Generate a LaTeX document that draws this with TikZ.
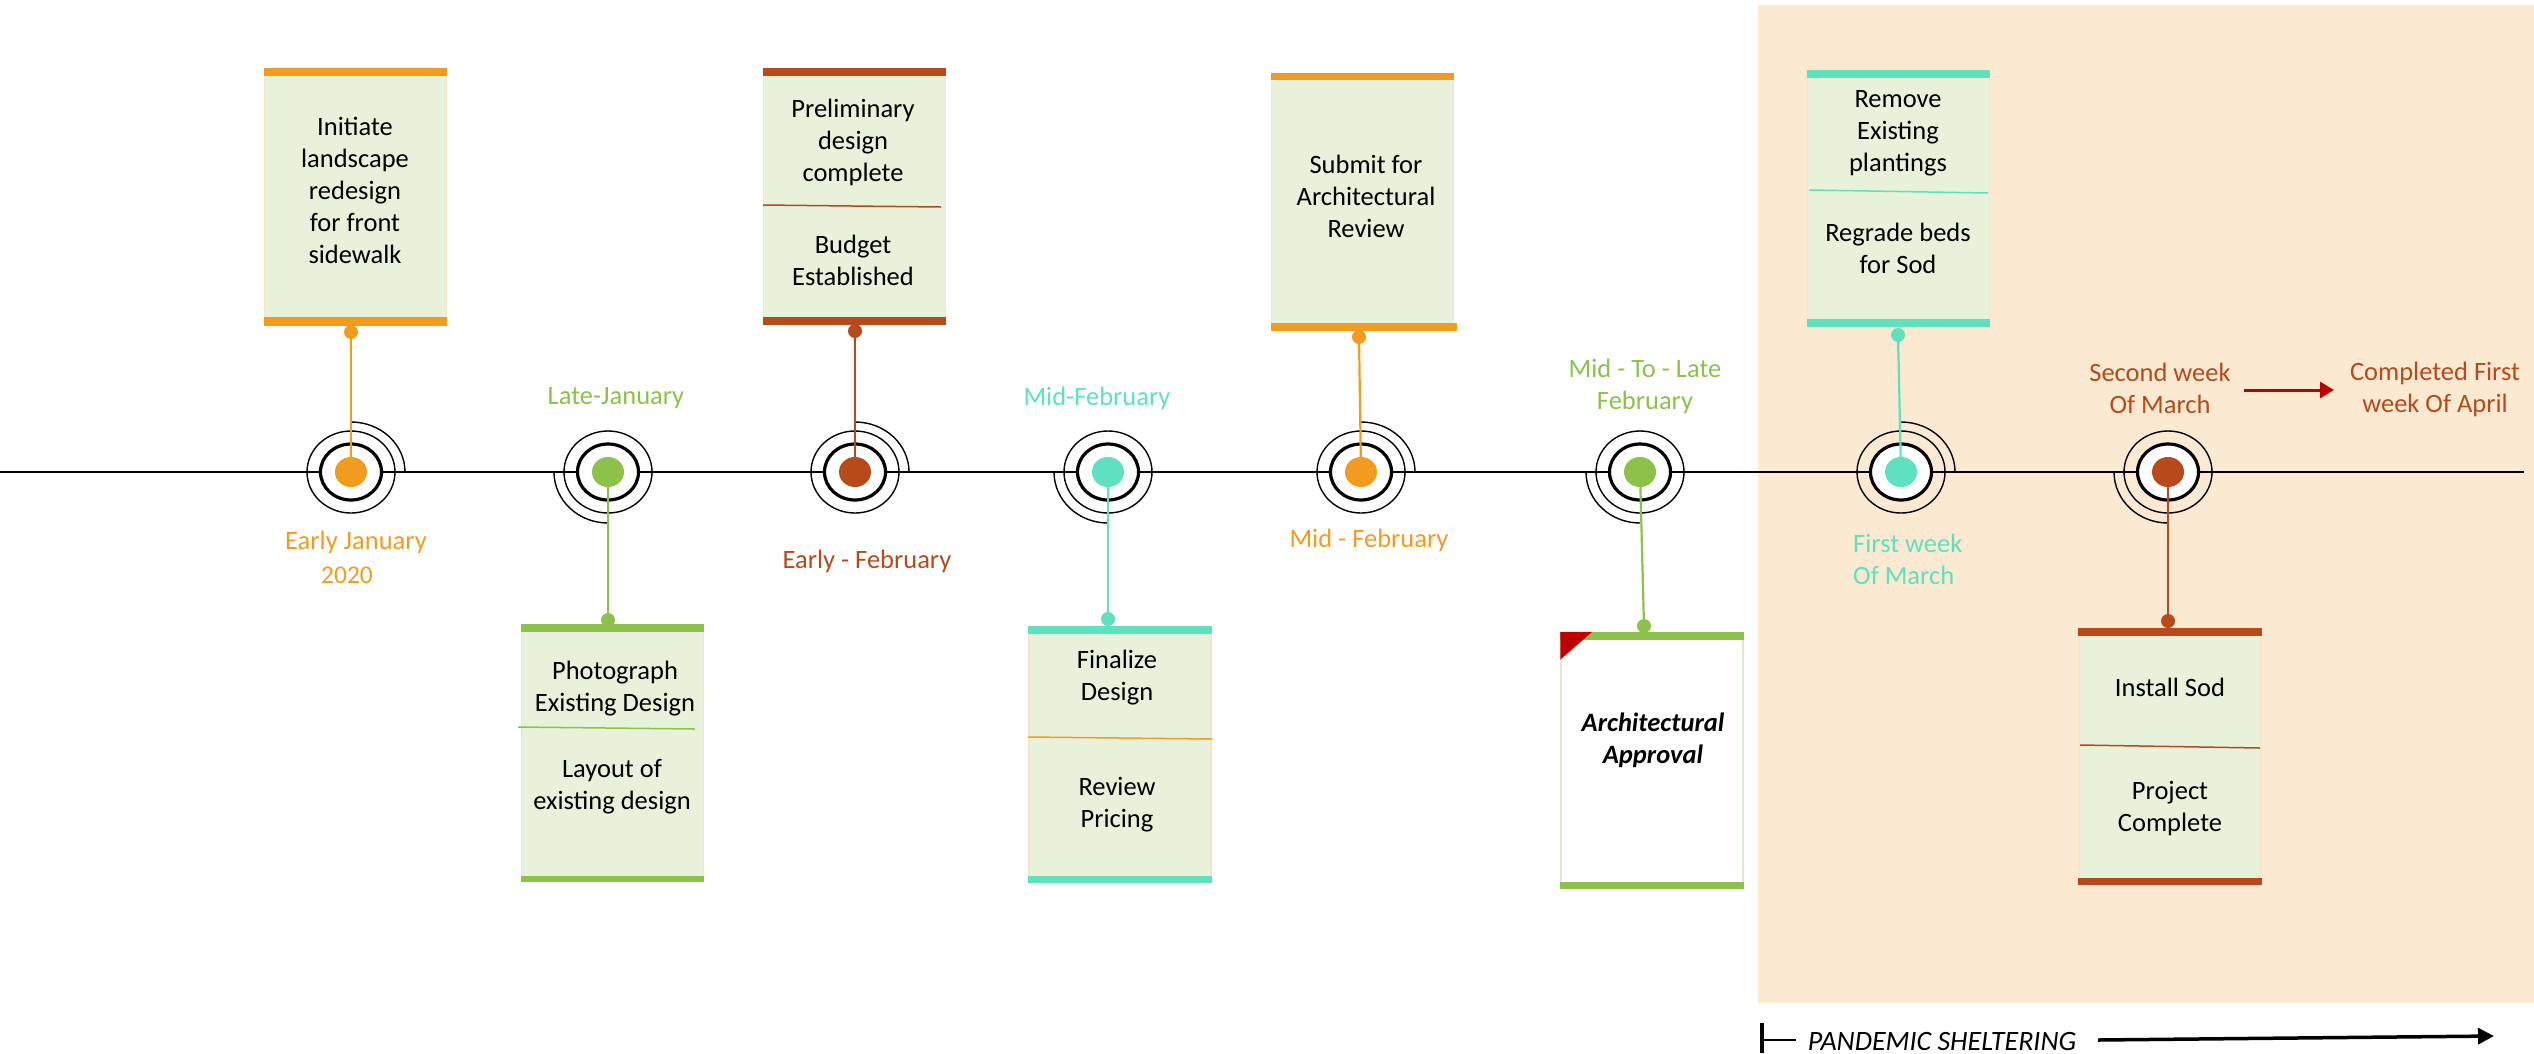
\documentclass[tikz,border=0pt]{standalone}
\usepackage{fontspec}
\setmainfont{Carlito}
\usetikzlibrary{arrows.meta,shapes.geometric}
\definecolor{orng}{HTML}{F29C1F}
\definecolor{rust}{HTML}{B74A1B}
\definecolor{grn}{HTML}{8CC24A}
\definecolor{teal}{HTML}{5DE1BE}
\definecolor{peach}{HTML}{FBE9D2}
\definecolor{boxfill}{HTML}{E8F1D9}
\definecolor{boxedge}{HTML}{FBE3C6}
\definecolor{lgedge}{HTML}{DDEBCB}
\definecolor{redc}{HTML}{C00000}
\begin{document}
\begin{tikzpicture}[x=1pt,y=-1pt,
  box/.style={draw=boxedge, fill=boxfill, line width=1.5pt, minimum width=182, minimum height=256, inner sep=0pt},
  btxt/.style={font=\fontsize{26.5}{32}\selectfont, align=center, inner sep=0pt, text=black},
  lbl/.style={font=\fontsize{26.5}{32}\selectfont, align=center, inner sep=0pt},
  sdot/.style={circle, minimum size=14, inner sep=0pt},
  dotn/.style={ellipse, minimum width=32, minimum height=30, inner sep=0pt},
  divl/.style={line width=1.5pt}]
\useasboundingbox (0,0) rectangle (2534,1053);

% background for pandemic period
\fill[peach] (1758,5) rectangle (2534,1003);

% timeline
\coordinate (tl0) at (0,472);
\coordinate (tl1) at (2524,472);
\draw[line width=2.4pt] (tl0) -- (tl1);

% ---------- boxes ----------
% 1 upper orange
\node[box] (b1) at (355.5,197) {};
\fill[orng] (b1.north west) rectangle ([yshift=-8pt]b1.north east);
\fill[orng] ([yshift=9pt]b1.south west) rectangle (b1.south east);
\node[btxt] (t1) at (355,190) {Initiate\\landscape\\redesign\\for front\\sidewalk};

% 3 upper rust
\node[box] (b3) at (854.5,196.5) {};
\fill[rust] (b3.north west) rectangle ([yshift=-8pt]b3.north east);
\fill[rust] ([yshift=8pt]b3.south west) rectangle (b3.south east);
\draw[rust, divl] (763,205) -- (941,207);
\node[btxt] (t3a) at (853,142) {Preliminary\\design\\complete};
\node[btxt] (t3b) at (853,260) {Budget\\Established};

% 5 upper orange
\node[box] (b5) at (1362.5,202) {};
\fill[orng] (b5.north west) rectangle ([yshift=-7pt]b5.north east);
\fill[orng] ([yshift=8pt]b5.south west) rectangle ([xshift=3pt]b5.south east);
\node[btxt] (t5) at (1366,196) {Submit for\\Architectural\\Review};

% 7 upper teal
\node[box] (b7) at (1898.5,198.5) {};
\fill[teal] (b7.north west) rectangle ([yshift=-8pt]b7.north east);
\fill[teal] ([yshift=8pt]b7.south west) rectangle (b7.south east);
\draw[teal, divl] (1809,190) -- (1988,193);
\node[btxt] (t7a) at (1898,133) {Remove\\Existing\\plantings};
\node[btxt] (t7b) at (1898,248) {Regrade beds\\for Sod};

% 2 lower green
\node[box] (b2) at (612.5,753) {};
\fill[grn] (b2.north west) rectangle ([yshift=-8pt]b2.north east);
\fill[grn] ([yshift=6pt]b2.south west) rectangle (b2.south east);
\draw[grn, divl] (518,727) -- (695,729);
\node[btxt] (t2a) at (615,689) {Photograph\\Existing Design};
\node[btxt] (t2b) at (612,787) {Layout of\\existing design};

% 4 lower teal
\node[box] (b4) at (1120,754.5) {};
\fill[teal] (b4.north west) rectangle ([yshift=-8pt]b4.north east);
\fill[teal] ([yshift=7pt]b4.south west) rectangle (b4.south east);
\draw[orng, divl] (1028,737) -- (1212,739);
\node[btxt] (t4a) at (1117,678) {Finalize\\Design};
\node[btxt] (t4b) at (1117,805) {Review\\Pricing};

% 6 lower green, white
\node[box, draw=lgedge, fill=white] (b6) at (1652,760.5) {};
\fill[grn] (b6.north west) rectangle ([yshift=-8pt]b6.north east);
\fill[grn] ([yshift=7pt]b6.south west) rectangle (b6.south east);
\fill[redc] (b6.north west) -- ++(32,0) -- ++(-32,28) -- cycle;
\node[btxt, font=\bfseries\itshape\fontsize{26.5}{32}\selectfont] (t6) at (1653,740) {Architectural\\Approval};

% 8 lower rust
\node[box] (b8) at (2170,756.5) {};
\fill[rust] (b8.north west) rectangle ([yshift=-8pt]b8.north east);
\fill[rust] ([yshift=7pt]b8.south west) rectangle (b8.south east);
\draw[rust, divl] (2080,745) -- (2260,748);
\node[btxt] (t8a) at (2170,687) {Install Sod};
\node[btxt] (t8b) at (2170,809) {Project\\Complete};

% small connector dots
\node[sdot, fill=orng] (s1) at (351,332) {};
\node[sdot, fill=grn]  (s2) at (608,620) {};
\node[sdot, fill=rust] (s3) at (855,331) {};
\node[sdot, fill=teal] (s4) at (1108,619) {};
\node[sdot, fill=orng] (s5) at (1359,337) {};
\node[sdot, fill=grn]  (s6) at (1644,626) {};
\node[sdot, fill=teal] (s7) at (1898,335) {};
\node[sdot, fill=rust] (s8) at (2168,621) {};

% timeline targets
\foreach \n/\x/\c/\up in {1/351/orng/1, 2/608/grn/0, 3/855/rust/1, 4/1108/teal/0,
                          5/1361/orng/1, 6/1640/grn/0, 7/1901/teal/1, 8/2168/rust/0} {
  \coordinate (c\n) at (\x,472);
  \fill[white] (c\n) ellipse [x radius=30.5, y radius=28];
  \draw[line width=3.2pt] (c\n) ellipse [x radius=30.5, y radius=28];
  \draw[line width=1.4pt] (c\n) ellipse [x radius=44, y radius=41];
  \ifnum\up=1
    \draw[line width=1.4pt] (\x,422) arc[start angle=270, end angle=360, x radius=54, y radius=50];
  \else
    \draw[line width=1.4pt] (\x-54,472) arc[start angle=180, end angle=90, x radius=54, y radius=51];
  \fi
  \draw[\c, line width=2.2pt] (s\n) -- (c\n);
  \node[dotn, fill=\c] (d\n) at (c\n) {};
}

% date labels
\node[lbl, text=orng] (l1) at (356,542) {Early January};
\node[lbl, text=orng, font=\fontsize{25.5}{30}\selectfont] (l1y) at (347,575) {2020};
\node[lbl, text=grn] (l2) at (616,398) {Late-January};
\node[lbl, text=rust] (l3) at (867,561) {Early - February};
\node[lbl, text=teal] (l4) at (1097,398) {Mid-February};
\node[lbl, text=orng] (l5) at (1369,540) {Mid - February};
\node[lbl, text=grn] (l6) at (1645,386) {Mid - To - Late\\February};
\node[lbl, text=teal, align=left, anchor=west] (l7) at (1853,559) {First week\\Of March};
\node[lbl, text=rust] (l8) at (2160,388) {Second week\\Of March};
\node[lbl, text=rust] (l9) at (2435,389) {Completed First\\week Of April};

% red arrow
\coordinate (ra1) at (2244,390);
\coordinate (ra2) at (2334,390);
\draw[redc, line width=3pt, -{Triangle[length=14pt,width=16pt]}] (ra1) -- (ra2);

% pandemic sheltering
\coordinate (ps0) at (1762,1023);
\coordinate (ps1) at (1762,1053);
\draw[line width=4pt] (ps0) -- (ps1);
\coordinate (pt0) at (1764,1040);
\coordinate (pt1) at (1796,1040);
\draw[line width=1.5pt] (pt0) -- (pt1);
\node[font=\itshape\fontsize{28}{32}\selectfont, inner sep=0pt] (ps) at (1942,1041) {PANDEMIC SHELTERING};
\coordinate (pa0) at (2098,1040);
\coordinate (pa1) at (2494,1036);
\draw[line width=3.5pt, -{Triangle[length=16pt,width=16pt]}] (pa0) -- (pa1);
\end{tikzpicture}
\end{document}
